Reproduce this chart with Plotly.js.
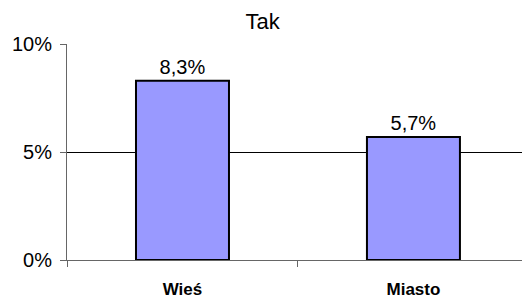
<!DOCTYPE html>
<html>
<head>
<meta charset="utf-8">
<script src="https://cdn.plot.ly/plotly-3.0.1.min.js"></script>
<style>html,body{margin:0;padding:0;background:#fff;}#chart{width:523px;height:302px;}</style>
</head>
<body>
<div id="chart"></div>
<script>
const categories = ['Wieś', 'Miasto'];
const values = [0.083, 0.057];
const yTickVals = [0, 0.05, 0.1];
const yTickText = ['0%', '5%', '10%'];
const chartTitle = 'Tak';

const font = 'Liberation Sans, Arial, sans-serif';

const trace = {
  type: 'bar',
  x: categories,
  y: values,
  width: 0.4026,
  marker: {color: '#9999FF', line: {color: '#000000', width: 2}},
  texttemplate: '%{y:.1%}',
  textposition: 'outside',
  textfont: {family: font, size: 20, color: '#000'},
  cliponaxis: false,
  hoverinfo: 'none'
};

const layout = {
  width: 523,
  height: 302,
  margin: {l: 67, r: 1, t: 44, b: 42},
  paper_bgcolor: '#fff',
  plot_bgcolor: '#fff',
  separators: ', ',
  showlegend: false,
  title: {
    text: chartTitle,
    font: {family: font, size: 22, color: '#000'},
    xref: 'container', x: 0.502,
    yref: 'container', y: 1 - 21 / 302, yanchor: 'middle'
  },
  xaxis: {
    type: 'category',
    range: [-0.5, 1.47],
    tickson: 'boundaries',
    ticks: 'outside',
    ticklen: 6,
    tickcolor: '#666',
    showline: true,
    linecolor: '#666',
    linewidth: 1,
    showgrid: false,
    ticklabelstandoff: 14,
    tickfont: {family: font, size: 17, color: '#000', weight: 'bold'}
  },
  yaxis: {
    range: [0, 0.1],
    tickvals: yTickVals,
    ticktext: yTickText,
    ticks: 'outside',
    ticklen: 6,
    tickcolor: '#666',
    showline: true,
    linecolor: '#666',
    linewidth: 1,
    showgrid: true,
    gridcolor: '#000',
    gridwidth: 1,
    zeroline: false,
    ticklabelstandoff: 4,
    tickfont: {family: font, size: 20, color: '#000'}
  }
};

Plotly.newPlot('chart', [trace], layout, {displayModeBar: false, staticPlot: true});
</script>
</body>
</html>
